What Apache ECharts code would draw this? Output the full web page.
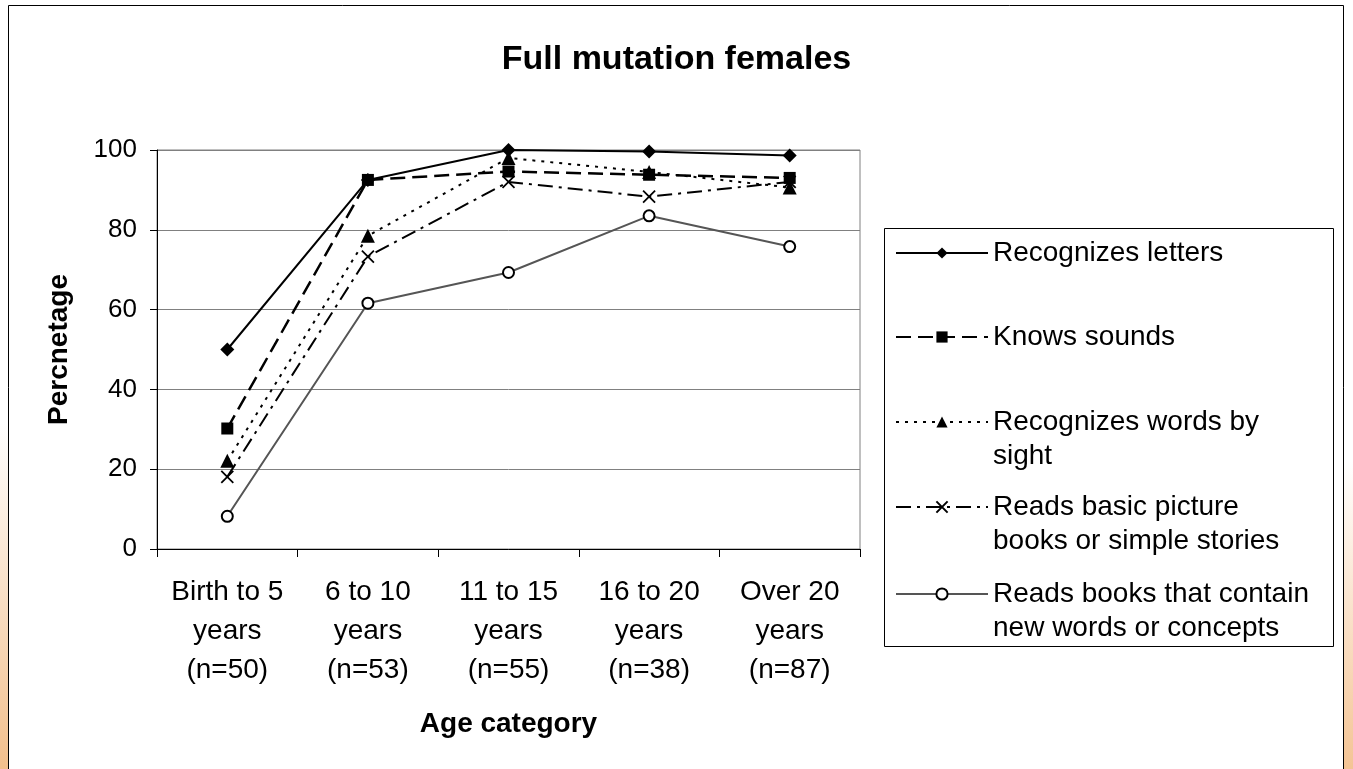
<!DOCTYPE html>
<html>
<head>
<meta charset="utf-8">
<script src="https://cdn.jsdelivr.net/npm/echarts@6/dist/echarts.min.js"></script>
<style>
  html, body { margin: 0; padding: 0; background: #fff; }
  #chart { width: 1353px; height: 769px; }
</style>
</head>
<body>
<div id="chart"></div>
<script>
const categories = [
  'Birth to 5\nyears\n(n=50)',
  '6 to 10\nyears\n(n=53)',
  '11 to 15\nyears\n(n=55)',
  '16 to 20\nyears\n(n=38)',
  'Over 20\nyears\n(n=87)'
];
const recognizesLetters = [50, 92.5, 100, 99.6, 98.6];
const knowsSounds = [30.2, 92.5, 94.6, 93.8, 93];
const wordsBySight = [22.1, 78.5, 98, 94.5, 90.6];
const pictureBooks = [18.1, 73.3, 92, 88.3, 92];
const newWordsBooks = [8.2, 61.6, 69.3, 83.5, 75.8];

const seriesNames = [
  'Recognizes letters',
  'Knows sounds',
  'Recognizes words by\nsight',
  'Reads basic picture\nbooks or simple stories',
  'Reads books that contain\nnew words or concepts'
];
// top of each legend entry (one legend per entry so the icon sits on the first text line)
const legendTops = [236, 320, 371, 456, 543];

const font = 'Liberation Sans, Arial, sans-serif';
const crossPath = 'path://M0,0L10,10M10,0L0,10';

function line(name, data, symbol, size, lineStyle, itemStyle) {
  return {
    name: name,
    type: 'line',
    data: data,
    symbol: symbol,
    symbolSize: size,
    lineStyle: lineStyle,
    itemStyle: itemStyle,
    emphasis: { disabled: true },
    animation: false
  };
}

const legends = seriesNames.map(function (n, i) {
  return {
    orient: 'vertical',
    left: 895,
    top: legendTops[i],
    padding: 0,
    itemWidth: 92,
    itemHeight: 14,
    selectedMode: false,
    data: [{ name: n }],
    formatter: function (s) {
      return s.indexOf('\n') >= 0 ? '\n' + s : s;
    },
    textStyle: { fontFamily: font, fontSize: 28, color: '#000', lineHeight: 34 }
  };
});

const chart = echarts.init(document.getElementById('chart'));
chart.setOption({
  backgroundColor: '#fff',
  title: {
    text: 'Full mutation females',
    left: 'center',
    top: 38,
    textStyle: { fontFamily: font, fontSize: 34, fontWeight: 'bold', color: '#000' }
  },
  graphic: [
    {
      type: 'rect', left: 0, top: 0, z: -10, silent: true,
      shape: { width: 8, height: 769 },
      style: { fill: new echarts.graphic.LinearGradient(0, 0, 0, 1, [
        { offset: 0, color: '#fff' }, { offset: 0.55, color: '#fff' }, { offset: 1, color: '#f2bf8c' }]) }
    },
    {
      type: 'rect', left: 1344, top: 0, z: -10, silent: true,
      shape: { width: 9, height: 769 },
      style: { fill: new echarts.graphic.LinearGradient(0, 0, 0, 1, [
        { offset: 0, color: '#fff' }, { offset: 0.6, color: '#fff' }, { offset: 1, color: '#f4c494' }]) }
    },
    {
      type: 'rect', z: -5, silent: true,
      shape: { x: 8.5, y: 5.5, width: 1335, height: 800 },
      style: { fill: '#fff', stroke: '#000', lineWidth: 1 }
    },
    {
      type: 'rect', z: -4, silent: true,
      shape: { x: 884.5, y: 228.5, width: 449, height: 418 },
      style: { fill: '#fff', stroke: '#000', lineWidth: 1 }
    }
  ],
  legend: legends,
  grid: {
    left: 157, right: 493, top: 150, bottom: 220,
    show: true, borderColor: '#808080', borderWidth: 1,
    containLabel: false
  },
  xAxis: {
    type: 'category',
    data: categories,
    boundaryGap: true,
    name: 'Age category',
    nameLocation: 'middle',
    nameGap: 161,
    nameTextStyle: { fontFamily: font, fontSize: 28, fontWeight: 'bold', color: '#000' },
    axisLine: { lineStyle: { color: '#000', width: 1 } },
    axisTick: { show: true, length: 8, inside: false, lineStyle: { color: '#000' } },
    axisLabel: {
      interval: 0, margin: 24,
      fontFamily: font, fontSize: 28, lineHeight: 39, color: '#000'
    },
    splitLine: { show: false }
  },
  yAxis: {
    type: 'value',
    min: 0, max: 100, interval: 20,
    name: 'Percnetage',
    nameLocation: 'middle',
    nameRotate: 90,
    nameGap: 84,
    nameTextStyle: { fontFamily: font, fontSize: 28, fontWeight: 'bold', color: '#000' },
    axisLine: { show: true, lineStyle: { color: '#000', width: 1 } },
    axisTick: { show: true, length: 7, lineStyle: { color: '#000' } },
    axisLabel: { margin: 20, fontFamily: font, fontSize: 26, color: '#000' },
    splitLine: { lineStyle: { color: '#808080', width: 1 } }
  },
  series: [
    line(seriesNames[0], recognizesLetters, 'diamond', 14,
      { color: '#000', width: 2, type: 'solid' },
      { color: '#000' }),
    line(seriesNames[1], knowsSounds, 'rect', 12,
      { color: '#000', width: 2.5, type: [15, 7] },
      { color: '#000' }),
    line(seriesNames[2], wordsBySight, 'triangle', 14,
      { color: '#000', width: 2, type: [3, 6] },
      { color: '#000' }),
    line(seriesNames[3], pictureBooks, crossPath, 12,
      { color: '#000', width: 2, type: [15, 6, 3, 6] },
      { color: '#000', borderColor: '#000', borderWidth: 1.8 }),
    line(seriesNames[4], newWordsBooks, 'emptyCircle', 11,
      { color: '#555', width: 2, type: 'solid' },
      { color: '#000', borderColor: '#000', borderWidth: 1.8 })
  ]
});
</script>
</body>
</html>
